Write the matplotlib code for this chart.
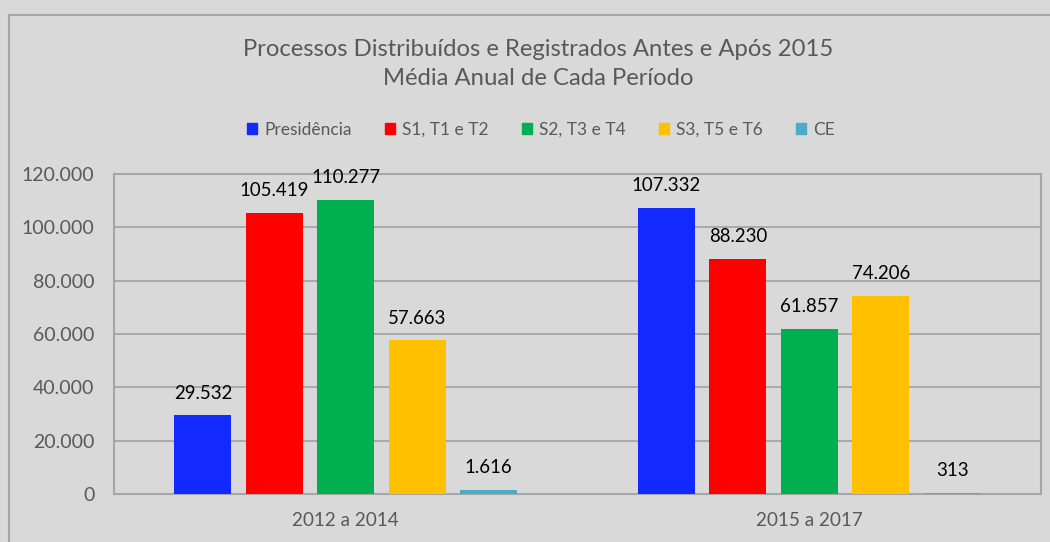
import matplotlib
matplotlib.use("Agg")
import matplotlib.pyplot as plt
from matplotlib.lines import Line2D
from matplotlib.patches import Patch
import numpy as np

categories = ["2012 a 2014", "2015 a 2017"]
series_names = ["Presidência", "S1, T1 e T2", "S2, T3 e T4", "S3, T5 e T6", "CE"]
presidencia = [29532, 107332]
s1_t1_t2 = [105419, 88230]
s2_t3_t4 = [110277, 61857]
s3_t5_t6 = [57663, 74206]
ce = [1616, 313]
yticks = [0, 20000, 40000, 60000, 80000, 100000, 120000]
title = "Processos Distribuídos e Registrados Antes e Após 2015\nMédia Anual de Cada Período"

series_values = [presidencia, s1_t1_t2, s2_t3_t4, s3_t5_t6, ce]
colors = ["#1229ff", "#ff0000", "#00b050", "#ffc000", "#4bacc6"]

plt.rcParams['font.family'] = ['Lato', 'DejaVu Sans']
BG = "#d9d9d9"
GRID = "#a6a6a6"
TXT = "#595959"

def fmt(v):
    return f"{v:,}".replace(",", ".")

fig = plt.figure(figsize=(10.5, 5.42), dpi=100, facecolor=BG)
ax = fig.add_axes([114/1050, 1-494/542, (1041-114)/1050, (494-174)/542])
ax.set_facecolor(BG)

x = np.arange(len(categories))
width = 0.123
step = 0.154
n = len(series_values)
for i, (vals, c, name) in enumerate(zip(series_values, colors, series_names)):
    pos = x + (i - (n-1)/2) * step
    ax.bar(pos, vals, width, color=c, label=name, zorder=3)
    for px, v in zip(pos, vals):
        ax.annotate(fmt(v), (px, v), xytext=(0, 16), textcoords="offset points",
                    ha="center", va="center", fontsize=13.4, color="#000000", zorder=4)

ax.set_xlim(-0.5, 1.5)
ax.set_ylim(0, 120000)
ax.set_yticks(yticks)
ax.set_yticklabels([fmt(t) for t in yticks], fontsize=14, color=TXT)
ax.set_xticks(x)
ax.set_xticklabels(categories, fontsize=13.6, color=TXT)
ax.tick_params(axis="both", length=0)
ax.tick_params(axis="y", pad=14)
ax.tick_params(axis="x", pad=13)
ax.yaxis.grid(True, color=GRID, linewidth=1.3, zorder=0)
ax.set_axisbelow(True)
for s in ax.spines.values():
    s.set_color(GRID)
    s.set_linewidth(1.5)

fig.text(538/1050, 1-64/542, title, ha="center", va="center", fontsize=17.2,
         color=TXT, linespacing=1.5)

handles = [Patch(facecolor=c, edgecolor=c) for c in colors]
fig.legend(handles, series_names, loc="center", bbox_to_anchor=(541/1050, 1-130/542),
           ncol=5, frameon=False, fontsize=12.5, labelcolor=TXT,
           handlelength=0.6, handleheight=0.6, handletextpad=0.4, columnspacing=1.9)

# outer chart frame (cropped)
fig.add_artist(Line2D([9/1050, 9/1050], [0, 1-15/542], transform=fig.transFigure,
                      color=GRID, linewidth=1.5))
fig.add_artist(Line2D([9/1050, 1], [1-15/542, 1-15/542], transform=fig.transFigure,
                      color=GRID, linewidth=1.5))

fig.savefig("out.png", dpi=100, facecolor=BG)
